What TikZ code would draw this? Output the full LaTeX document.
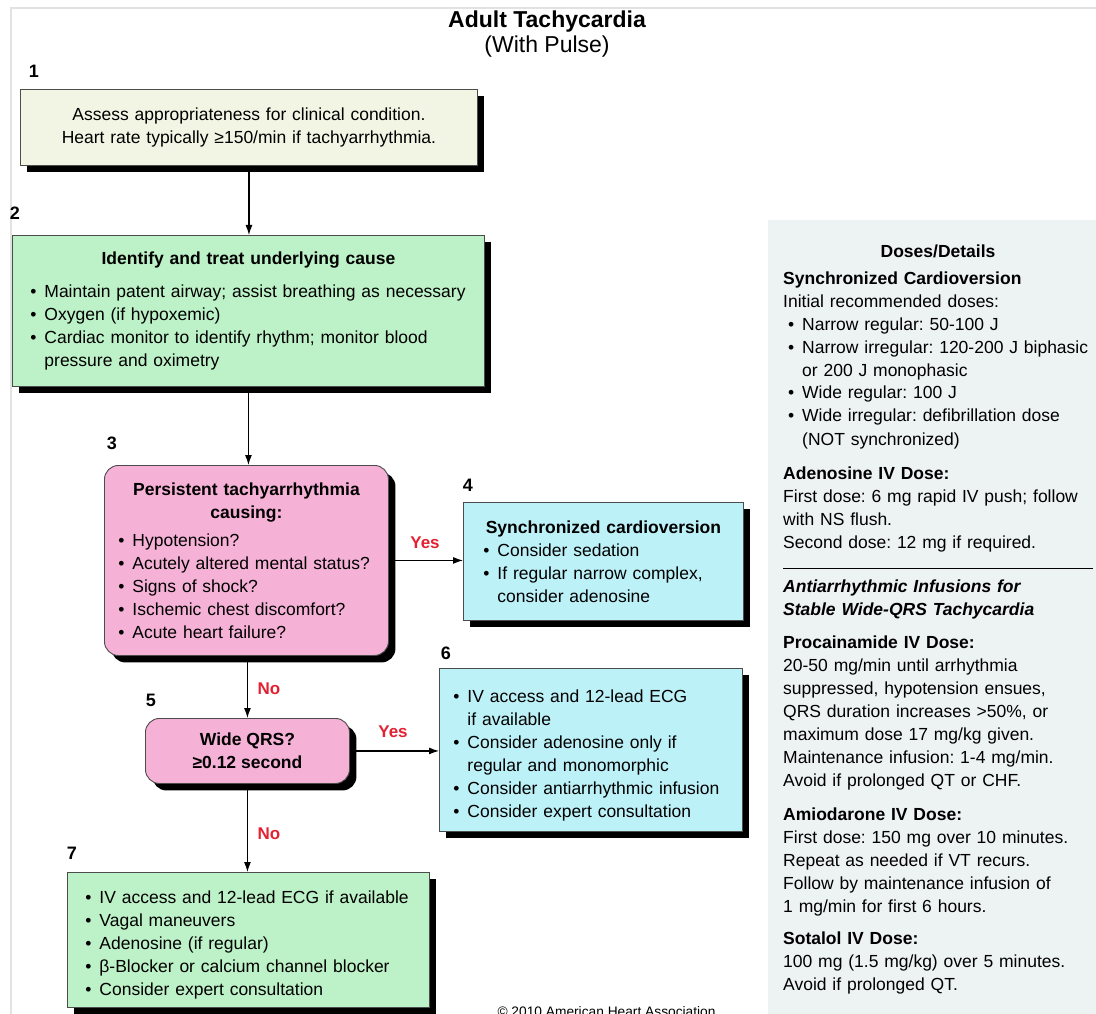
\documentclass[tikz,border=0pt]{standalone}
\usepackage{fontspec}
\setmainfont{Liberation Sans}
\usetikzlibrary{shadows}
\usetikzlibrary{arrows.meta}
\frenchspacing

\definecolor{creamfill}{RGB}{243,245,228}
\definecolor{greenfill}{RGB}{189,241,199}
\definecolor{pinkfill}{RGB}{246,177,214}
\definecolor{cyanfill}{RGB}{188,241,248}
\definecolor{panelfill}{RGB}{237,242,243}
\definecolor{answerred}{RGB}{226,34,50}
\definecolor{framegray}{RGB}{226,226,226}

% bullet items inside the boxes and inside the side panel
\newcommand{\itm}{\par\hangindent=14pt\hangafter=1\noindent\makebox[14pt][l]{\textbullet}}
\newcommand{\pitm}{\par\hangindent=19pt\hangafter=1\noindent\hspace*{5pt}\makebox[14pt][l]{\textbullet}}

\tikzset{
  flowbox/.style={draw=black!70, line width=0.9pt, anchor=north west, inner ysep=0pt, inner xsep=15pt,
    align=left, font=\fontsize{17.5}{23}\selectfont,
    execute at begin node=\setlength{\parindent}{0pt},
    drop shadow={shadow xshift=7pt, shadow yshift=-7pt, fill=black, opacity=1}},
  roundbox/.style={flowbox, rounded corners=14pt},
  steplabel/.style={font=\fontsize{18}{18}\selectfont\bfseries, anchor=base},
  answer/.style={font=\fontsize{17}{17}\selectfont\bfseries, text=answerred},
  paneltext/.style={anchor=base west, inner sep=0pt, text width=312pt, align=left,
    font=\fontsize{17.5}{23}\selectfont, execute at begin node=\setlength{\parindent}{0pt}},
  flowarrow/.style={line width=1.1pt, -{Latex[length=10pt,width=7pt]}},
}

\begin{document}
\begin{tikzpicture}[x=1pt,y=-1pt]
        \useasboundingbox (0,0) rectangle (1096,1014);

        % Page frame and the doses panel
        \draw [framegray, line width=1.2pt] (11,1014) -- (11,8) -- (1096,8);%
        \fill [panelfill] (768,220) rectangle (1096,1014);%

        % Title
        \node [font=\fontsize{23}{23}\selectfont\bfseries, anchor=base] (title) at (547,28) {Adult Tachycardia};%
        \node [font=\fontsize{23}{23}\selectfont, anchor=base] (subtitle) at (547,53) {(With Pulse)};%

        % Box 1
        \node [steplabel] (num1) at (34,78) {1};%
        \node [flowbox, fill=creamfill, text width=427pt, minimum height=76pt, align=center] (assess) at (20,89)
          {Assess appropriateness for clinical condition.\\Heart rate typically ≥150/min if tachyarrhythmia.};%

        % Box 2
        \node [steplabel] (num2) at (15,219) {2};%
        \node [flowbox, fill=greenfill, inner xsep=18pt, text width=436pt, minimum height=151pt] (cause) at (12,235)
          {{\centering\bfseries Identify and treat underlying cause\par}\vspace{10pt}%
           \itm Maintain patent airway; assist breathing as necessary
           \itm Oxygen (if hypoxemic)
           \itm Cardiac monitor to identify rhythm; monitor blood\newline pressure and oximetry\par};%

        % Box 3
        \node [steplabel] (num3) at (112,449) {3};%
        \node [roundbox, fill=pinkfill, inner xsep=14pt, text width=256pt, minimum height=190pt] (persist) at (104,465)
          {{\centering\bfseries Persistent tachyarrhythmia\\causing:\par}\vspace{5pt}%
           \itm Hypotension?
           \itm Acutely altered mental status?
           \itm Signs of shock?
           \itm Ischemic chest discomfort?
           \itm Acute heart failure?\par};%

        % Box 4
        \node [steplabel] (num4) at (468,491) {4};%
        \node [flowbox, fill=cyanfill, inner xsep=20pt, text width=240pt, minimum height=118pt] (cardiov) at (463,502)
          {{\centering\bfseries Synchronized cardioversion\par}%
           \itm Consider sedation
           \itm If regular narrow complex,\newline consider adenosine\par};%

        % Box 5
        \node [steplabel] (num5) at (151,706) {5};%
        \node [roundbox, fill=pinkfill, minimum width=204pt, minimum height=65pt, align=center,
          font=\fontsize{17.5}{23}\selectfont\bfseries] (wideqrs) at (145,718)
          {Wide QRS?\\≥0.12 second};%

        % Box 6
        \node [steplabel] (num6) at (446,659) {6};%
        \node [flowbox, fill=cyanfill, inner xsep=14pt, text width=275pt, minimum height=163pt] (widecare) at (439,668)
          {\itm IV access and 12-lead ECG\newline if available
           \itm Consider adenosine only if\newline regular and monomorphic
           \itm Consider antiarrhythmic infusion
           \itm Consider expert consultation\par};%

        % Box 7
        \node [steplabel] (num7) at (72,859) {7};%
        \node [flowbox, fill=greenfill, inner xsep=18pt, text width=326pt, minimum height=135pt] (narrowcare) at (67,872)
          {\itm IV access and 12-lead ECG if available
           \itm Vagal maneuvers
           \itm Adenosine (if regular)
           \itm β-Blocker or calcium channel blocker
           \itm Consider expert consultation\par};%

        % Connectors
        \draw [flowarrow] (assess.south) -- (assess.south |- cause.north);%
        \draw [flowarrow] (cause.south) -- (cause.south |- persist.north);%
        \draw [flowarrow] (persist.east) -- (persist.east -| cardiov.west);%
        \draw [flowarrow] (persist.south -| wideqrs.north) -- (wideqrs.north);%
        \draw [flowarrow] (wideqrs.east) -- (wideqrs.east -| widecare.west);%
        \draw [flowarrow] (wideqrs.south) -- (wideqrs.south |- narrowcare.north);%

        % Yes and No labels
        \node [answer] (yes1) at (425,543) {Yes};%
        \node [answer] (no1) at (269,689) {No};%
        \node [answer] (yes2) at (393,732) {Yes};%
        \node [answer] (no2) at (269,834) {No};%

        % Doses panel text
        \node [font=\fontsize{17.5}{23}\selectfont\bfseries, anchor=base] (dosetitle) at (938,258) {Doses/Details};%
        \node [paneltext] (doses) at (783,284)
          {{\bfseries Synchronized Cardioversion}\par
           Initial recommended doses:
           \pitm Narrow regular: 50-100 J
           \pitm Narrow irregular: 120-200 J biphasic\newline or 200 J monophasic
           \pitm Wide regular: 100 J
           \pitm Wide irregular: defibrillation dose\newline (NOT synchronized)\par
           \vspace{11pt}%
           {\bfseries Adenosine IV Dose:}\par
           First dose: 6 mg rapid IV push; follow\newline with NS flush.\par
           Second dose: 12 mg if required.\par};%
        \draw [line width=0.9pt] (783,568) -- (1093,568);%
        \node [paneltext] (infusions) at (783,592)
          {{\bfseries\itshape Antiarrhythmic Infusions for\newline Stable Wide-QRS Tachycardia\par}
           \vspace{10pt}%
           {\bfseries Procainamide IV Dose:}\par
           20-50 mg/min until arrhythmia\newline suppressed, hypotension ensues,\newline
           QRS duration increases >50\%, or\newline maximum dose 17 mg/kg given.\newline
           Maintenance infusion: 1-4 mg/min.\newline Avoid if prolonged QT or CHF.\par
           \vspace{11pt}%
           {\bfseries Amiodarone IV Dose:}\par
           First dose: 150 mg over 10 minutes.\newline Repeat as needed if VT recurs.\newline
           Follow by maintenance infusion of\newline 1 mg/min for first 6 hours.\par
           \vspace{9pt}%
           {\bfseries Sotalol IV Dose:}\par
           100 mg (1.5 mg/kg) over 5 minutes.\newline Avoid if prolonged QT.\par};%

        % Copyright line, cut by the page edge
        \node [font=\fontsize{13.75}{14}\selectfont, anchor=base west] (copyr) at (494,1016) {© 2010 American Heart Association};%
\end{tikzpicture}
\end{document}
